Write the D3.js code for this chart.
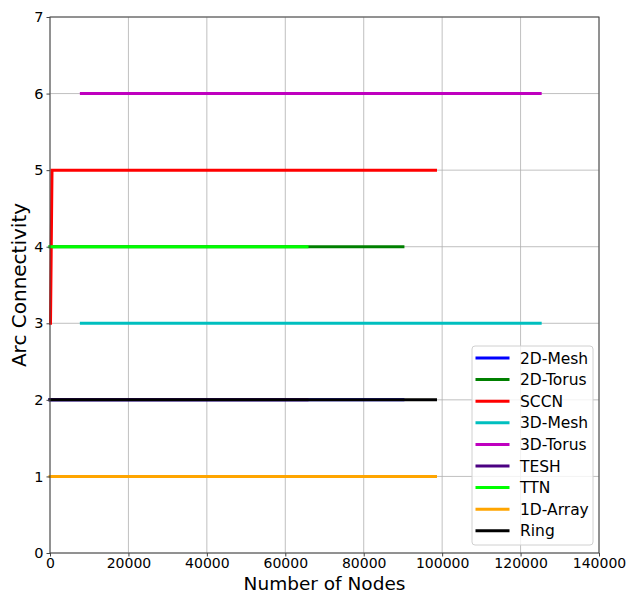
<!DOCTYPE html>
<html>
<head>
<meta charset="utf-8">
<script src="https://cdn.jsdelivr.net/npm/d3@7"></script>
<style>
  body { margin: 0; background: #fff; }
  svg { font-family: "DejaVu Sans", sans-serif; }
</style>
</head>
<body>
<div id="chart"></div>
<script>
// series: [nodes, arc connectivity]
const mesh2d = [[16, 2], [1024, 2], [16384, 2], [65536, 2], [90000, 2]];
const torus2d = [[16, 4], [1024, 4], [16384, 4], [65536, 4], [90000, 4]];
const sccn = [[128, 3], [512, 5], [4096, 5], [32768, 5], [98304, 5]];
const mesh3d = [[8000, 3], [27000, 3], [64000, 3], [125000, 3]];
const torus3d = [[8000, 6], [27000, 6], [64000, 6], [125000, 6]];
const tesh = [[16, 2], [1024, 2], [16384, 2], [65536, 2]];
const ttn = [[16, 4], [1024, 4], [16384, 4], [65536, 4]];
const array1d = [[16, 1], [1024, 1], [16384, 1], [98304, 1]];
const ring = [[16, 2], [1024, 2], [16384, 2], [98304, 2]];

const seriesNames = ["2D-Mesh", "2D-Torus", "SCCN", "3D-Mesh", "3D-Torus", "TESH", "TTN", "1D-Array", "Ring"];
const seriesData = [mesh2d, torus2d, sccn, mesh3d, torus3d, tesh, ttn, array1d, ring];
const seriesColors = ["#0000ff", "#008000", "#ff0000", "#00bfbf", "#bf00bf", "#4b0082", "#00ff00", "#ffa500", "#000000"];

const xTicks = [0, 20000, 40000, 60000, 80000, 100000, 120000, 140000];
const yTicks = [0, 1, 2, 3, 4, 5, 6, 7];

const W = 629, H = 594;
const margin = { top: 17, right: 30, bottom: 41, left: 50 };
const width = W - margin.left - margin.right;
const height = H - margin.top - margin.bottom;

const svg = d3.select("#chart").append("svg")
    .attr("width", W)
    .attr("height", H);

const g = svg.append("g")
    .attr("transform", `translate(${margin.left},${margin.top})`);

const x = d3.scaleLinear().domain([0, 140000]).range([0, width]);
const y = d3.scaleLinear().domain([0, 7]).range([height, 0]);

// grid
g.append("g").selectAll("line").data(xTicks).enter().append("line")
    .attr("x1", d => x(d)).attr("x2", d => x(d))
    .attr("y1", 0).attr("y2", height)
    .attr("stroke", "#b0b0b0").attr("stroke-width", 0.8);
g.append("g").selectAll("line").data(yTicks).enter().append("line")
    .attr("x1", 0).attr("x2", width)
    .attr("y1", d => y(d)).attr("y2", d => y(d))
    .attr("stroke", "#b0b0b0").attr("stroke-width", 0.8);

// lines (matplotlib default projecting caps)
const line = d3.line().x(d => x(d[0])).y(d => y(d[1]));
seriesData.forEach((data, i) => {
    g.append("path")
        .datum(data)
        .attr("d", line)
        .attr("fill", "none")
        .attr("stroke", seriesColors[i])
        .attr("stroke-width", 3)
        .attr("stroke-linecap", "square");
});

// axes
const xAxis = g.append("g")
    .attr("transform", `translate(0,${height})`)
    .call(d3.axisBottom(x).tickValues(xTicks).tickFormat(d3.format("d")).tickSize(3.5).tickPadding(1.5));
const yAxis = g.append("g")
    .call(d3.axisLeft(y).tickValues(yTicks).tickFormat(d3.format("d")).tickSize(3.5).tickPadding(3));
[xAxis, yAxis].forEach(a => {
    a.selectAll("text").attr("font-size", 14.5).attr("fill", "#000")
        .style("font-family", "DejaVu Sans");
    a.selectAll("line").attr("stroke", "#444");
    a.select(".domain").remove();
});
xAxis.selectAll("text").attr("font-size", 14);

// frame
g.append("rect")
    .attr("width", width).attr("height", height)
    .attr("fill", "none").attr("stroke", "#444").attr("stroke-width", 1);

// labels
svg.append("text")
    .attr("x", margin.left + width / 2)
    .attr("y", 589.5)
    .attr("text-anchor", "middle")
    .attr("font-size", 18.5)
    .text("Number of Nodes");

svg.append("text")
    .attr("transform", `translate(26,${margin.top + height / 2}) rotate(-90)`)
    .attr("text-anchor", "middle")
    .attr("font-size", 20)
    .text("Arc Connectivity");

// legend
const legend = svg.append("g").attr("transform", "translate(472,346)");
legend.append("rect")
    .attr("width", 121).attr("height", 199)
    .attr("rx", 3)
    .attr("fill", "#fff").attr("fill-opacity", 0.8)
    .attr("stroke", "#d0d0d0");
seriesNames.forEach((name, i) => {
    const yy = 12 + i * 21.6;
    legend.append("line")
        .attr("x1", 5).attr("x2", 36)
        .attr("y1", yy).attr("y2", yy)
        .attr("stroke", seriesColors[i]).attr("stroke-width", 3)
        .attr("stroke-linecap", "square");
    legend.append("text")
        .attr("x", 48).attr("y", yy + 5.5)
        .attr("font-size", 15.5)
        .text(name);
});
</script>
</body>
</html>
